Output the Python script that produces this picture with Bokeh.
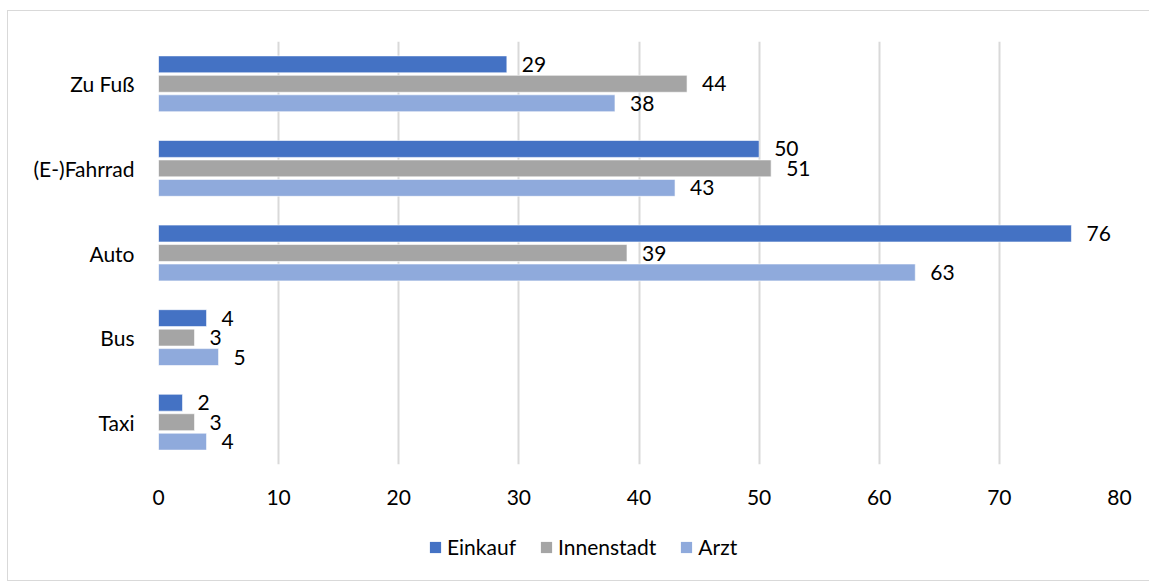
from bokeh.plotting import figure
from bokeh.models import FactorRange, Legend, LegendItem, ColumnDataSource, FixedTicker, Range1d
from bokeh.layouts import column
from bokeh.transform import dodge
from bokeh.embed import file_html
from bokeh.resources import INLINE
from bokeh.core.properties import value

categories = ["Zu Fuß", "(E-)Fahrrad", "Auto", "Bus", "Taxi"]
einkauf = [29, 50, 76, 4, 2]
innenstadt = [44, 51, 39, 3, 3]
arzt = [38, 43, 63, 5, 4]
series_names = ["Einkauf", "Innenstadt", "Arzt"]
colors = ["#4472C4", "#A5A5A5", "#8FAADC"]
x_ticks = [0, 10, 20, 30, 40, 50, 60, 70, 80]

FONT = "Lato"
FS = "21px"

src = ColumnDataSource(dict(
    cat=categories,
    Einkauf=einkauf, Innenstadt=innenstadt, Arzt=arzt,
    Einkauf_t=[str(v) for v in einkauf],
    Innenstadt_t=[str(v) for v in innenstadt],
    Arzt_t=[str(v) for v in arzt],
))

p = figure(
    width=1141, height=498,
    y_range=FactorRange(factors=list(reversed(categories)), range_padding=0),
    x_range=Range1d(0, 80),
    output_backend="svg", toolbar_location=None,
    min_border_left=150, min_border_right=30, min_border_top=30, min_border_bottom=45,
)
p.outline_line_color = None

offsets = [0.23, 0.0, -0.23]
for name, col, off in zip(series_names, colors, offsets):
    p.hbar(y=dodge("cat", off, range=p.y_range), left=0, right=name, height=0.2,
           source=src, fill_color=col, line_color="white", line_width=0.6)
    p.text(x=name, y=dodge("cat", off, range=p.y_range), text=name + "_t", source=src,
           x_offset=15, text_baseline="middle", text_align="left",
           text_font=value(FONT), text_font_size=FS, text_color="#000000")

p.xaxis.ticker = FixedTicker(ticks=x_ticks)
for ax in (p.xaxis[0], p.yaxis[0]):
    ax.axis_line_color = None
    ax.major_tick_line_color = None
    ax.minor_tick_line_color = None
    ax.major_label_text_font = FONT
    ax.major_label_text_font_size = FS
    ax.major_label_text_color = "#000000"
p.xaxis.major_label_standoff = 19
p.yaxis.major_label_standoff = 18

p.xgrid.grid_line_color = "#D9D9D9"
p.xgrid.grid_line_width = 2
p.ygrid.grid_line_color = None

# legend strip below the chart
lf = figure(
    width=1141, height=71, x_range=Range1d(0, 1), y_range=Range1d(0, 1),
    x_axis_type=None, y_axis_type=None,
    output_backend="svg", toolbar_location=None,
    min_border_left=0, min_border_right=0, min_border_top=0, min_border_bottom=0,
)
lf.outline_line_color = None
lf.xgrid.grid_line_color = None
lf.ygrid.grid_line_color = None
# zero-size placeholder glyphs that only provide the legend swatches
placeholder = ColumnDataSource(dict(y=[0], left=[0], right=[0]))
legend_renderers = [lf.hbar(y="y", left="left", right="right", height=0, source=placeholder,
                            fill_color=col, line_color=None) for col in colors]

legend = Legend(
    items=[LegendItem(label=n, renderers=[r]) for n, r in zip(series_names, legend_renderers)],
    orientation="horizontal", location=(270, 21),
    padding=0, margin=0, spacing=23,
    glyph_width=14, glyph_height=14, label_standoff=5,
    label_text_font=FONT, label_text_font_size=FS, label_text_color="#000000",
    border_line_color=None, background_fill_alpha=0,
)
lf.add_layout(legend, "center")

layout = column(p, lf, spacing=0)
layout.styles = {"border": "1px solid #D9D9D9", "margin-left": "7px", "margin-top": "10px"}

open("out.html", "w").write(file_html(layout, INLINE))
